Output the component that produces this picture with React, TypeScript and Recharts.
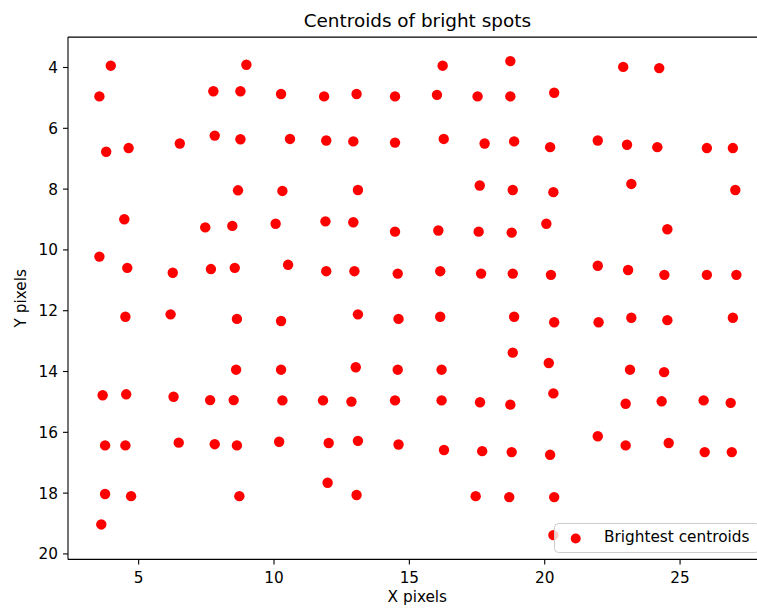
import React from "react";
import { ScatterChart, Scatter, XAxis, YAxis, Legend } from "recharts";

// centroid positions, roughly row by row
const centroidX = [
  3.97, 8.98, 16.23, 18.73, 22.9, 24.23,
  3.55, 7.76, 8.76, 10.26, 11.85, 13.05, 14.47, 16.02, 17.52, 18.73, 20.35,
  3.8, 4.63, 6.52, 7.81, 8.76, 10.59, 11.93, 12.93, 14.47, 16.27, 17.78, 18.87, 20.2, 21.96, 23.04, 24.16, 25.99, 26.95,
  8.67, 10.31, 13.1, 17.6, 18.82, 20.32, 23.2, 27.04,
  4.47, 7.46, 8.46, 10.06, 11.9, 12.93, 14.47, 16.07, 17.56, 18.78, 20.06, 24.53,
  3.55, 4.58, 6.26, 7.67, 8.55, 10.52, 11.93, 12.97, 14.57, 16.14, 17.65, 18.82, 20.23, 21.96, 23.08, 24.42, 25.99, 27.08,
  4.51, 6.18, 8.63, 10.26, 13.1, 14.6, 16.14, 18.87, 20.35, 21.99, 23.2, 24.53, 26.95,
  8.6, 10.26, 13.02, 14.57, 16.19, 18.82, 20.15, 23.15, 24.41,
  3.67, 4.54, 6.29, 7.64, 8.51, 10.31, 11.81, 12.86, 14.47, 16.19, 17.61, 18.73, 20.32, 22.99, 24.32, 25.87, 26.87,
  3.76, 4.51, 6.48, 7.81, 8.63, 10.19, 12.02, 13.1, 14.6, 16.28, 17.69, 18.78, 20.2, 21.96, 22.99, 24.58, 25.91, 26.91,
  3.76, 4.72, 8.72, 11.98, 13.05, 17.45, 18.69, 20.35,
  3.62, 20.32,
];

const centroidY = [
  3.94, 3.91, 3.94, 3.79, 3.98, 4.02,
  4.95, 4.78, 4.78, 4.87, 4.95, 4.87, 4.95, 4.9, 4.95, 4.95, 4.83,
  6.77, 6.65, 6.5, 6.24, 6.36, 6.35, 6.4, 6.43, 6.47, 6.35, 6.5, 6.43, 6.62, 6.4, 6.54, 6.62, 6.65, 6.65,
  8.04, 8.06, 8.03, 7.88, 8.03, 8.1, 7.83, 8.03,
  8.99, 9.26, 9.21, 9.14, 9.06, 9.09, 9.4, 9.36, 9.4, 9.43, 9.14, 9.32,
  10.22, 10.59, 10.75, 10.63, 10.59, 10.49, 10.7, 10.7, 10.78, 10.7, 10.78, 10.78, 10.82, 10.52, 10.66, 10.82, 10.82, 10.82,
  12.2, 12.12, 12.27, 12.34, 12.12, 12.27, 12.2, 12.2, 12.38, 12.38, 12.23, 12.31, 12.23,
  13.94, 13.94, 13.86, 13.94, 13.94, 13.38, 13.72, 13.94, 14.02,
  14.78, 14.75, 14.83, 14.94, 14.94, 14.95, 14.95, 14.99, 14.95, 14.95, 15.01, 15.09, 14.72, 15.06, 14.98, 14.95, 15.03,
  16.43, 16.43, 16.34, 16.39, 16.43, 16.31, 16.35, 16.28, 16.4, 16.58, 16.62, 16.65, 16.74, 16.13, 16.43, 16.35, 16.65, 16.65,
  18.03, 18.1, 18.1, 17.66, 18.06, 18.1, 18.13, 18.13,
  19.03, 19.38,
];

const xTicks = [5, 10, 15, 20, 25];
const yTicks = [4, 6, 8, 10, 12, 14, 16, 18, 20];
const seriesName = "Brightest centroids";
const title = "Centroids of bright spots";

const data = centroidX.map((x, i) => ({ x, y: centroidY[i] }));

// layout (the plot runs a bit past the right edge of the picture, like the original)
const W = 790;
const H = 609;
const PLOT_TOP = 37.1;
const PLOT_LEFT = 68;
const PLOT_RIGHT = 766.7;
const PLOT_BOTTOM = 559.4;
const FONT = "DejaVu Sans";
const RED = "#ff0000";

const renderXTick = (props: any) => (
  <text x={props.x} y={PLOT_BOTTOM + 23.3} textAnchor="middle" fontSize={15.3} fontFamily={FONT} fill="#000">
    {props.payload.value}
  </text>
);

const renderYTick = (props: any) => (
  <text x={PLOT_LEFT - 10} y={props.y + 5.5} textAnchor="end" fontSize={15.3} fontFamily={FONT} fill="#000">
    {props.payload.value}
  </text>
);

// x label, plus the title and the top spine (matplotlib-style frame)
const renderXLabel = () => (
  <g>
    <line x1={PLOT_LEFT} y1={PLOT_TOP} x2={PLOT_RIGHT} y2={PLOT_TOP} stroke="#000" strokeWidth={1.1} />
    <text x={(PLOT_LEFT + PLOT_RIGHT) / 2} y={27} textAnchor="middle" fontSize={18.4} fontFamily={FONT} fill="#000">
      {title}
    </text>
    <text x={(PLOT_LEFT + PLOT_RIGHT) / 2} y={601.5} textAnchor="middle" fontSize={15.3} fontFamily={FONT} fill="#000">
      X pixels
    </text>
  </g>
);

const renderYLabel = () => {
  const cy = (PLOT_TOP + PLOT_BOTTOM) / 2;
  return (
    <text x={26} y={cy} transform={`rotate(-90 26 ${cy})`} textAnchor="middle" fontSize={15.3} fontFamily={FONT} fill="#000">
      Y pixels
    </text>
  );
};

const renderLegend = () => (
  <svg width={210} height={31} style={{ display: "block", overflow: "visible" }}>
    <rect x={0.5} y={0.5} width={205} height={29} rx={4} fill="#fff" fillOpacity={0.8} stroke="#cccccc" />
    <circle cx={21.7} cy={15.5} r={5} fill={RED} />
    <text x={50} y={19.2} fontSize={15.3} fontFamily={FONT} fill="#000">
      {seriesName}
    </text>
  </svg>
);

const dot = (props: any) => <circle cx={props.cx} cy={props.cy} r={5.2} fill={RED} />;

export default function App() {
  return (
    <div
      style={{
        position: "fixed",
        left: 0,
        top: 0,
        width: 757,
        height: 609,
        overflow: "hidden",
        background: "#fff",
        fontFamily: FONT,
      }}
    >
      <ScatterChart
        width={W}
        height={H}
        margin={{ top: PLOT_TOP, right: W - PLOT_RIGHT, bottom: 0, left: 0 }}
      >
        <XAxis
          type="number"
          dataKey="x"
          domain={[2.39, 28.2]}
          ticks={xTicks}
          allowDataOverflow
          height={H - PLOT_BOTTOM}
          tick={renderXTick}
          tickSize={5}
          tickLine={{ stroke: "#000", strokeWidth: 1.1 }}
          axisLine={{ stroke: "#000", strokeWidth: 1.1 }}
          label={renderXLabel}
        />
        <YAxis
          type="number"
          dataKey="y"
          domain={[3.0, 20.18]}
          reversed
          ticks={yTicks}
          allowDataOverflow
          width={PLOT_LEFT}
          tick={renderYTick}
          tickSize={5}
          tickLine={{ stroke: "#000", strokeWidth: 1.1 }}
          axisLine={{ stroke: "#000", strokeWidth: 1.1 }}
          label={renderYLabel}
        />
        <Legend
          layout="vertical"
          align="center"
          verticalAlign="middle"
          wrapperStyle={{ left: 554, top: 522.5, width: 210, height: 31 }}
          content={renderLegend}
        />
        <Scatter name={seriesName} data={data} fill={RED} shape={dot} isAnimationActive={false} />
      </ScatterChart>
    </div>
  );
}
